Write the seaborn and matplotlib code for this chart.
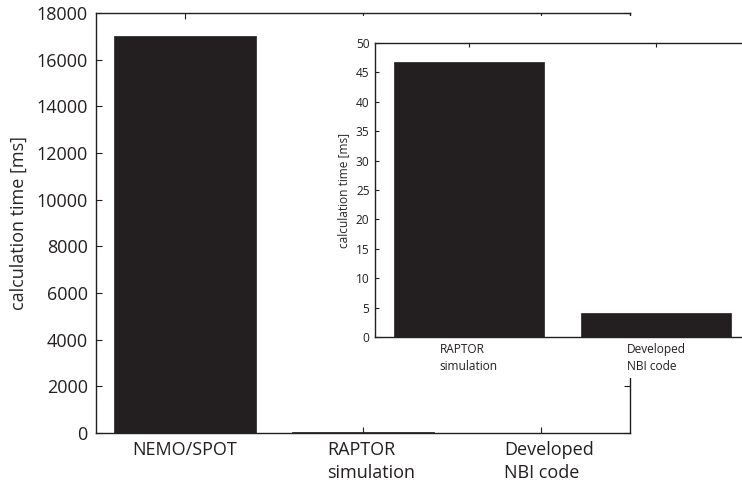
import matplotlib
matplotlib.use("Agg")
import matplotlib.pyplot as plt
from matplotlib.patches import Rectangle
from matplotlib.transforms import ScaledTranslation
import seaborn as sns
import pandas as pd

# Calculation time of each code, in milliseconds
codes = ["NEMO/SPOT", "RAPTOR\nsimulation", "Developed\nNBI code"]
times_ms = [17000, 46.7, 4.0]

inset_codes = ["RAPTOR\nsimulation", "Developed\nNBI code"]
inset_times_ms = [46.7, 4.0]

main_ticks = list(range(0, 18001, 2000))
inset_ticks = list(range(0, 51, 5))

ink = "#231f20"

sns.set_theme(style="ticks")
plt.rcParams["font.family"] = ["Open Sans", "DejaVu Sans"]
plt.rcParams["axes.edgecolor"] = ink
plt.rcParams["axes.linewidth"] = 1.0
plt.rcParams["xtick.color"] = ink
plt.rcParams["ytick.color"] = ink
plt.rcParams["text.color"] = ink

W, H = 742, 483
fig = plt.figure(figsize=(W / 100, H / 100), dpi=100)

# Main axes
ax = fig.add_axes([96 / W, 1 - 433 / H, 534 / W, 420 / H])
ax.set_zorder(0)
df = pd.DataFrame({"code": codes, "time": times_ms})
sns.barplot(data=df, x="code", y="time", order=codes, color=ink,
            saturation=1, width=0.8, ax=ax, edgecolor=ink, linewidth=0.5)
ax.set_xlim(-0.5, 2.5)
ax.set_ylim(0, 18000)
ax.set_yticks(main_ticks)
ax.set_xlabel("")
ax.set_ylabel("calculation time [ms]", fontsize=13, labelpad=6)
ax.tick_params(axis="both", direction="in", top=True, right=True,
               length=4, width=0.8, labelsize=13, pad=6)
shift = ScaledTranslation(8 / 100, 0, fig.dpi_scale_trans)
for i, lab in enumerate(ax.get_xticklabels()):
    lab.set_multialignment("left")
    lab.set_linespacing(1.35)
    if i > 0:
        lab.set_transform(lab.get_transform() + shift)
for s in ax.spines.values():
    s.set_visible(True)

# White panel behind the inset
fig.patches.append(Rectangle((330 / W, 1 - 378 / H), (W - 330) / W, (378 - 16) / H,
                             transform=fig.transFigure, facecolor="white",
                             edgecolor="none", zorder=1))

# Inset axes
axi = fig.add_axes([375 / W, 1 - 337 / H, 375 / W, 294 / H])
axi.set_zorder(2)
dfi = pd.DataFrame({"code": inset_codes, "time": inset_times_ms})
sns.barplot(data=dfi, x="code", y="time", order=inset_codes, color=ink,
            saturation=1, width=0.8, ax=axi, edgecolor=ink, linewidth=0.5)
axi.set_xlim(-0.5, 1.5)
axi.set_ylim(0, 50)
axi.set_yticks(inset_ticks)
axi.set_xlabel("")
axi.set_ylabel("calculation time [ms]", fontsize=8.6, labelpad=4)
axi.tick_params(axis="both", direction="in", top=True, right=True,
                length=3, width=0.8, labelsize=8.6, pad=4)
for lab in axi.get_xticklabels():
    lab.set_multialignment("left")
    lab.set_linespacing(1.45)
for s in axi.spines.values():
    s.set_visible(True)

fig.savefig("out.png", dpi=100)
